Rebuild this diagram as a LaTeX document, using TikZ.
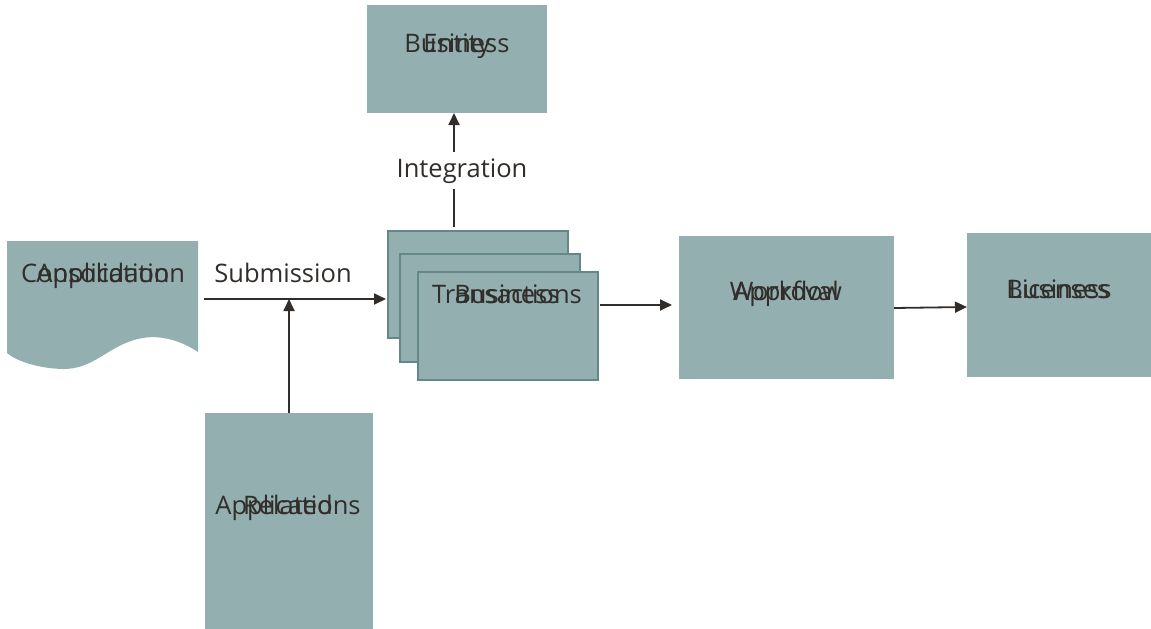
\documentclass[tikz,border=0pt]{standalone}
\usepackage{fontspec}
\setmainfont{Open Sans}
\usetikzlibrary{arrows.meta}
\definecolor{boxfill}{RGB}{147,175,175}
\definecolor{boxedge}{RGB}{100,135,135}
\definecolor{ink}{RGB}{49,45,42}
\begin{document}
\begin{tikzpicture}[x=1pt,y=-1pt,
  box/.style={fill=boxfill,draw=none},
  stackbox/.style={fill=boxfill,draw=boxedge,line width=1.5pt},
  lbl/.style={text=ink,font=\fontsize{25.5}{28}\selectfont,inner sep=0pt,anchor=base},
  conn/.style={draw=ink,line width=1.8pt,-{Triangle[length=12pt,width=11pt]}},
  tag/.style={text=ink,font=\fontsize{25.5}{28}\selectfont,fill=white,inner ysep=6pt,inner xsep=0pt,anchor=base}]
\useasboundingbox (0,0) rectangle (1151,629);
% boxes
\path[box] (367,5) rectangle (547,113);
\coordinate (entS) at (454,113);
\node[lbl] (ent1) at (457,52) {Business};
\node[lbl] (ent2) at (457,52) {Entity};
% document shape
\path[box] (7,241) -- (198,241) -- (198,352)
  .. controls (180,340) and (160,335) .. (143,338)
  .. controls (110,343) and (95,370) .. (62,369)
  .. controls (35,368) and (15,360) .. (7,353) -- cycle;
\coordinate (docE) at (204,299);
\node[lbl] (doc1) at (103,282) {Consolidation};
\node[lbl] (doc2) at (103,282) {Application};
% bottom box
\path[box] (205,413) rectangle (373,629);
\coordinate (relN) at (289,413);
\node[lbl] (rel1) at (288,514) {Applications};
\node[lbl] (rel2) at (288,514) {Related};
% stack
\path[stackbox] (388,231) rectangle (568,338);
\path[stackbox] (400,254) rectangle (580,362);
\path[stackbox] (418,272) rectangle (598,380);
\coordinate (stkW) at (386,299);
\coordinate (stkN) at (454,227);
\coordinate (stkE) at (600,305);
\node[lbl] (bt1) at (507,303) {Transactions};
\node[lbl] (bt2) at (507,303) {Business};
% workflow
\path[box] (679,236) rectangle (894,379);
\coordinate (wfW) at (672,305);
\coordinate (wfE) at (894,308);
\node[lbl] (wf1) at (786,300) {Workflow};
\node[lbl] (wf2) at (786,300) {Approval};
% licenses
\path[box] (967,233) rectangle (1151,377);
\coordinate (licW) at (967,307);
\node[lbl] (lic1) at (1059,298) {Business};
\node[lbl] (lic2) at (1059,298) {Licenses};
% connectors
\coordinate (join) at (289,299);
\draw[conn] (docE) -- (stkW);
\node[lbl] (sub) at (283,282) {Submission};
\draw[conn] (relN) -- (join);
\draw[conn] (stkN) -- (entS);
\node[tag] (integ) at (462,177) {Integration};
\draw[conn] (stkE) -- (wfW);
\draw[conn] (wfE) -- (licW);
\end{tikzpicture}
\end{document}
